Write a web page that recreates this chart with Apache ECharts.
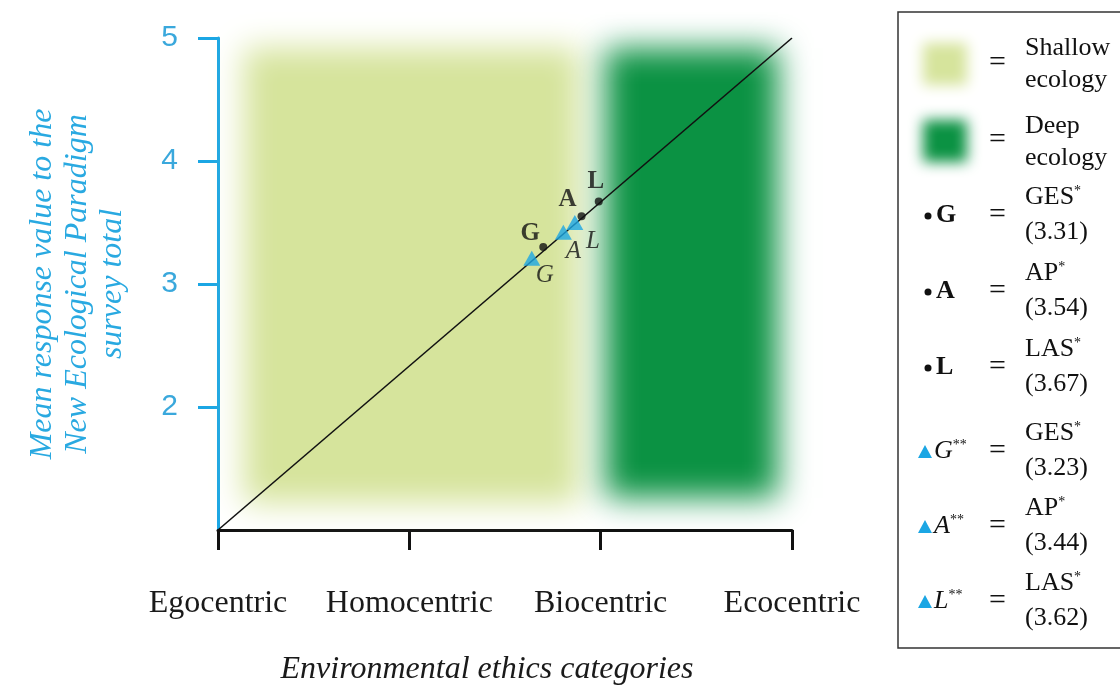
<!DOCTYPE html>
<html><head><meta charset="utf-8">
<script src="https://cdn.jsdelivr.net/npm/echarts@6/dist/echarts.min.js"></script>
<style>html,body{margin:0;padding:0;background:#fff}#c{width:1120px;height:691px}</style>
</head><body><div id="c"></div>
<script>
// ---------- data ----------
const categories = ['Egocentric', 'Homocentric', 'Biocentric', 'Ecocentric'];
const yTickValues = [2, 3, 4, 5];
const diagonalLine = [[0, 1], [3, 5]];
// zones: [x0, x1, y0, y1] in axis units
const shallowZone = [0.135, 1.885, 1.22, 4.92];
const deepZone = [2.025, 2.925, 1.26, 4.92];
const pointNames = ['G', 'A', 'L'];
const dotX = [1.70, 1.90, 1.99];
const dotY = [3.30, 3.55, 3.67];
const triX = [1.64, 1.805, 1.865];
const triY = [3.21, 3.42, 3.50];
const legendSurveys = ['GES', 'AP', 'LAS'];
const dotLegendValues = ['3.31', '3.54', '3.67'];
const triLegendValues = ['3.23', '3.44', '3.62'];

// ---------- styles ----------
const SERIF = '"Liberation Serif", "Times New Roman", serif';
const SANS = '"Liberation Sans", Arial, sans-serif';
const BLUE = '#1ba6e4';
const LIGHT = '#d6e49c';
const DARK = '#0b9243';
const OFF = 3000;
const dotLabelOffsets = [[-13, -14], [-14, -17], [-3, -20]];
const triLabelOffsets = [[13, 17], [10, 19], [18, 19]];

const zoneColors = [LIGHT, DARK];
const zoneData = [shallowZone, deepZone];

const chart = echarts.init(document.getElementById('c'), null, {renderer: 'canvas'});

function blurRect(x, y, w, h, color, blur) {
  return {
    type: 'rect', silent: true,
    shape: {x: x, y: y - OFF, width: w, height: h},
    style: {fill: color, shadowBlur: blur, shadowColor: color, shadowOffsetY: OFF}
  };
}

// legend graphics
const legendEls = [];
legendEls.push({type: 'rect', shape: {x: 898, y: 12, width: 260, height: 636},
  style: {fill: 'none', stroke: '#333', lineWidth: 1.5}, z: 10});
legendEls.push(Object.assign(blurRect(923, 43, 44, 42, LIGHT, 14), {z: 10}));
legendEls.push(Object.assign(blurRect(923, 120, 44, 42, DARK, 14), {z: 10}));
const txt = (x, y, s, extra) => Object.assign({
  type: 'text', x: x, y: y, z: 11,
  style: Object.assign({text: s, font: '26px ' + SERIF, fill: '#111', verticalAlign: 'middle', align: 'left'}, extra || {})
});
const eqX = 989;
const EQ = {font: '30px ' + SERIF};
legendEls.push(txt(eqX, 63, '=', EQ));
legendEls.push(txt(1025, 48, 'Shallow'));
legendEls.push(txt(1025, 80, 'ecology'));
legendEls.push(txt(eqX, 140, '=', EQ));
legendEls.push(txt(1025, 126, 'Deep'));
legendEls.push(txt(1025, 158, 'ecology'));

const supRich = {a: {font: '26px ' + SERIF, fill: '#111'}, s: {font: '14px ' + SERIF, fill: '#111', verticalAlign: 'top'}};
const dotRows = [215, 291, 367];
const triRows = [451, 526, 601];
dotRows.forEach((cy, i) => {
  legendEls.push({type: 'circle', z: 11, shape: {cx: 928, cy: cy + 1, r: 3.5}, style: {fill: '#111'}});
  legendEls.push(txt(936, cy, pointNames[i], {font: 'bold 26px ' + SERIF}));
  legendEls.push(txt(eqX, cy, '=', EQ));
  legendEls.push(txt(1025, cy - 18, '{a|' + legendSurveys[i] + '}{s|*}', {rich: supRich}));
  legendEls.push(txt(1025, cy + 17, '(' + dotLegendValues[i] + ')'));
});
triRows.forEach((cy, i) => {
  legendEls.push({type: 'polygon', z: 11, shape: {points: [[925, cy - 6], [932, cy + 7], [918, cy + 7]]}, style: {fill: BLUE}});
  legendEls.push(txt(934, cy, '{i|' + pointNames[i] + '}{s|**}', {rich: {
    i: {font: 'italic 26px ' + SERIF, fill: '#111'},
    s: {font: '14px ' + SERIF, fill: '#111', verticalAlign: 'top'}}}));
  legendEls.push(txt(eqX, cy, '=', EQ));
  legendEls.push(txt(1025, cy - 18, '{a|' + legendSurveys[i] + '}{s|*}', {rich: supRich}));
  legendEls.push(txt(1025, cy + 17, '(' + triLegendValues[i] + ')'));
});

const option = {
  animation: false,
  backgroundColor: '#fff',
  grid: {left: 218, right: 328, top: 38, bottom: 156},
  xAxis: {
    type: 'value', min: 0, max: 3, interval: 1,
    axisLine: {show: true, onZero: false, lineStyle: {color: '#111', width: 3}},
    axisTick: {show: true, length: 20, lineStyle: {color: '#111', width: 3}},
    axisLabel: {formatter: v => categories[v] || '', fontFamily: SERIF, fontSize: 32, color: '#1a1a1a', margin: 58,
      showMinLabel: true, showMaxLabel: true},
    splitLine: {show: false},
    name: 'Environmental ethics categories', nameLocation: 'middle', nameGap: 124,
    nameTextStyle: {fontFamily: SERIF, fontStyle: 'italic', fontSize: 32, color: '#1a1a1a', padding: [0, 36, 0, 0]}
  },
  yAxis: {
    type: 'value', min: 1, max: 5, interval: 1,
    axisLine: {show: true, lineStyle: {color: BLUE, width: 3}},
    axisTick: {show: true, length: 20, customValues: yTickValues, lineStyle: {color: BLUE, width: 3}},
    axisLabel: {customValues: yTickValues, fontFamily: SANS, fontSize: 30, color: '#3aa8dc', margin: 40},
    splitLine: {show: false},
    name: 'Mean response value to the\nNew Ecological Paradigm\nsurvey total',
    nameLocation: 'middle', nameGap: 88,
    nameTextStyle: {fontFamily: SERIF, fontStyle: 'italic', fontSize: 32, color: '#29a9e1', lineHeight: 35, align: 'center'}
  },
  series: [
    {
      type: 'custom', z: 1, silent: true,
      data: zoneData.map((z, i) => z.concat([i])),
      renderItem: function (params, api) {
        const p0 = api.coord([api.value(0), api.value(3)]);
        const p1 = api.coord([api.value(1), api.value(2)]);
        const c = zoneColors[api.value(4)];
        return blurRect(p0[0], p0[1], p1[0] - p0[0], p1[1] - p0[1], c, 30);
      }
    },
    {
      type: 'line', z: 3, data: diagonalLine, symbol: 'none', silent: true,
      lineStyle: {color: '#111', width: 1.6}
    },
    {
      type: 'scatter', z: 5, symbol: 'triangle', symbolSize: [17, 15],
      itemStyle: {color: BLUE},
      data: triX.map((x, i) => ({value: [x, triY[i]], label: {show: true, position: 'inside', offset: triLabelOffsets[i], formatter: pointNames[i]}})),
      label: {fontFamily: SERIF, fontStyle: 'italic', fontSize: 25, color: '#111'}
    },
    {
      type: 'scatter', z: 6, symbol: 'circle', symbolSize: 8,
      itemStyle: {color: '#111'},
      data: dotX.map((x, i) => ({value: [x, dotY[i]], label: {show: true, position: 'inside', offset: dotLabelOffsets[i], formatter: pointNames[i]}})),
      label: {fontFamily: SERIF, fontWeight: 'bold', fontSize: 25, color: '#111'}
    }
  ],
  graphic: legendEls
};
chart.setOption(option);
</script>
</body></html>
